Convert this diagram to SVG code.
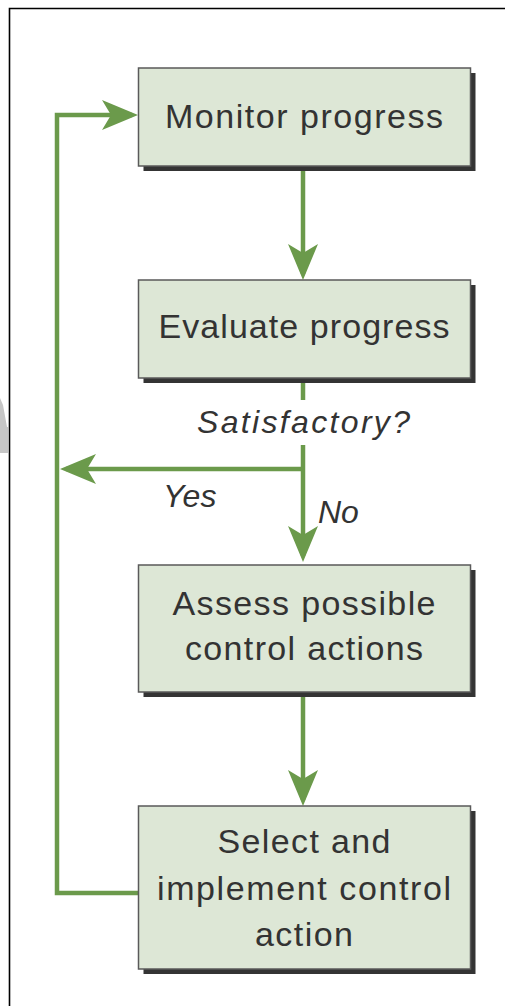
<svg xmlns="http://www.w3.org/2000/svg" width="505" height="1006" viewBox="0 0 505 1006">
<style>
.shadow{fill:#343434}
.box{fill:#dde7d6;stroke:#5a5a5a;stroke-width:1.5}
.t{font-family:"Liberation Sans",Arial,sans-serif;font-size:34px;fill:#333333;text-anchor:middle}
.it{font-family:"Liberation Sans",Arial,sans-serif;font-size:32px;font-style:italic;fill:#333333}
.c{fill:none;stroke:#6b9a4b;stroke-width:4.5}
</style>
<defs>
<marker id="ah" markerUnits="userSpaceOnUse" markerWidth="40" markerHeight="34" viewBox="-38 -17 40 34" refX="-6" refY="0" orient="auto">
<path d="M0,0 L-36,-15 L-27,0 L-36,15 Z" fill="#6b9a4b"/>
</marker>
</defs>
<rect width="505" height="1006" fill="#ffffff"/>
<polygon points="0,398 3,405 7,427 8,427 8,453 0,453" fill="#c6c6c6"/>
<path d="M9.5,1006 V8.5 H505" fill="none" stroke="#000" stroke-width="1.6"/>
<g id="connectors">
<line class="c" x1="303" y1="171" x2="303" y2="274" marker-end="url(#ah)"/>
<line class="c" x1="303" y1="383" x2="303" y2="400"/>
<line class="c" x1="303" y1="445" x2="303" y2="556" marker-end="url(#ah)"/>
<line class="c" x1="303" y1="469" x2="66" y2="469" marker-end="url(#ah)"/>
<line class="c" x1="303" y1="697" x2="303" y2="800" marker-end="url(#ah)"/>
<polyline class="c" points="139,893 57,893 57,115 132,115" marker-end="url(#ah)"/>
<text class="it" x="197" y="433" textLength="213">Satisfactory?</text>
<text class="it" x="163" y="507">Yes</text>
<text class="it" x="318" y="523">No</text>
</g>
<g id="monitor">
<rect class="shadow" x="143.5" y="73" width="332" height="98"/>
<rect class="box" x="138.5" y="68" width="332" height="98"/>
<text class="t" x="304" y="128" textLength="278">Monitor progress</text>
</g>
<g id="evaluate">
<rect class="shadow" x="143.5" y="285" width="332" height="98"/>
<rect class="box" x="138.5" y="280" width="332" height="98"/>
<text class="t" x="304" y="338" textLength="291">Evaluate progress</text>
</g>
<g id="assess">
<rect class="shadow" x="143.5" y="570" width="332" height="127"/>
<rect class="box" x="138.5" y="565" width="332" height="127"/>
<text class="t" x="304" y="615" textLength="263">Assess possible</text>
<text class="t" x="304" y="660" textLength="238">control actions</text>
</g>
<g id="select">
<rect class="shadow" x="143.5" y="811" width="332" height="163"/>
<rect class="box" x="138.5" y="806" width="332" height="163"/>
<text class="t" x="304" y="853" textLength="173">Select and</text>
<text class="t" x="304" y="900" textLength="294">implement control</text>
<text class="t" x="304" y="946" textLength="98">action</text>
</g>
</svg>
